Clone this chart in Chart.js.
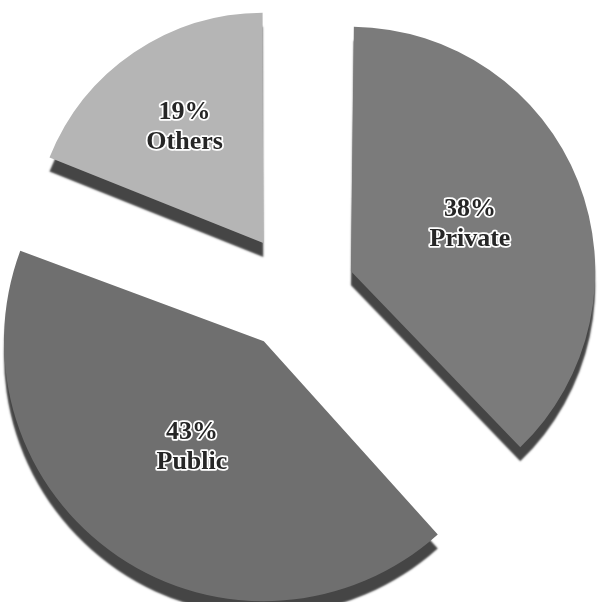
<!DOCTYPE html>
<html>
<head>
<meta charset="utf-8">
<script src="https://cdn.jsdelivr.net/npm/chart.js@4.4.1/dist/chart.umd.min.js"></script>
<style>
    html, body { margin: 0; padding: 0; background: #ffffff; }
    #wrap { width: 599px; height: 602px; }
</style>
</head>
<body>
<div id="wrap"><canvas id="grafico-pizza"></canvas></div>
<script>
const categorias = ["Private", "Public", "Others"];
const percentuais = [38, 43, 19];

const cores = ["#7b7b7b", "#6f6f6f", "#b5b5b5"];
const deslocamentos = [232, 236, 240];

// relevo escuro embaixo das fatias
const pluginRelevo = {
    id: "relevo",
    beforeDatasetDraw(chart) {
        const ctx = chart.ctx;
        ctx.save();
        ctx.shadowColor = "#454545";
        ctx.shadowBlur = 2;
        ctx.shadowOffsetX = 0;
        ctx.shadowOffsetY = 14;
    },
    afterDatasetDraw(chart) {
        chart.ctx.restore();
    }
};

const pluginRotulos = {
    id: "rotulos",
    afterDatasetsDraw(chart) {
        const ctx = chart.ctx;
        const meta = chart.getDatasetMeta(0);
        ctx.save();
        ctx.font = "bold 26px 'Liberation Serif', 'Times New Roman', serif";
        ctx.textAlign = "center";
        ctx.textBaseline = "middle";
        ctx.lineJoin = "round";

        meta.data.forEach((arco, i) => {
            const p = arco.getProps(["x", "y", "startAngle", "endAngle"]);
            const meio = (p.startAngle + p.endAngle) / 2;
            const desloc = (arco.options.offset || 0) / 4;
            const dist = desloc + (i === 2 ? 140 : 128);
            const lx = p.x + Math.cos(meio) * dist;
            const ly = p.y + Math.sin(meio) * dist;

            const linhas = [percentuais[i] + "%", categorias[i]];
            linhas.forEach((txt, j) => {
                const y = ly + (j === 0 ? -15 : 15);
                ctx.lineWidth = 3.5;
                ctx.strokeStyle = "#ffffff";
                ctx.strokeText(txt, lx, y);
                ctx.fillStyle = "#262626";
                ctx.fillText(txt, lx, y);
            });
        });
        ctx.restore();
    }
};

const ctx = document.getElementById("grafico-pizza");

new Chart(ctx, {
    type: "pie",
    data: {
        labels: categorias,
        datasets: [{
            data: percentuais,
            backgroundColor: cores,
            borderWidth: 0,
            offset: deslocamentos,
            clip: false
        }]
    },
    options: {
        responsive: true,
        maintainAspectRatio: false,
        animation: false,
        radius: 226,
        layout: {
            padding: { left: 0, right: 5, top: 0, bottom: 17 }
        },
        plugins: {
            legend: { display: false },
            tooltip: { enabled: false }
        }
    },
    plugins: [pluginRelevo, pluginRotulos]
});
</script>
</body>
</html>
